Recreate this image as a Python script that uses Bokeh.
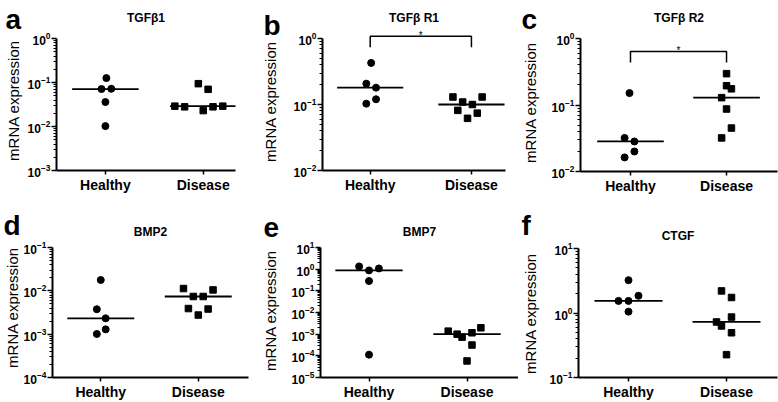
import math
import numpy as np
from bokeh.plotting import figure
from bokeh.models import Range1d, FixedTicker, Label
from bokeh.layouts import column, row
from bokeh.embed import file_html
from bokeh.resources import INLINE
from bokeh.core.properties import value

# ---------------- data ----------------
groups = ["Healthy", "Disease"]

tgfb1_healthy = [0.126, 0.071, 0.072, 0.036, 0.0102]
tgfb1_disease = [0.094, 0.070, 0.029, 0.028, 0.023, 0.028, 0.029]
tgfbr1_healthy = [0.427, 0.207, 0.18, 0.12, 0.103]
tgfbr1_disease = [0.13, 0.109, 0.0815, 0.1, 0.13, 0.074, 0.0617]
tgfbr2_healthy = [0.151, 0.032, 0.0283, 0.02, 0.0163]
tgfbr2_disease = [0.296, 0.195, 0.175, 0.129, 0.087, 0.045, 0.032]
bmp2_healthy = [0.0178, 0.00376, 0.00232, 0.00129, 0.00101]
bmp2_disease = [0.0113, 0.0105, 0.0074, 0.0074, 0.0039, 0.0038, 0.00276]
bmp7_healthy = [1.34, 0.877, 1.08, 0.284, 1.13e-4]
bmp7_disease = [1.38e-3, 1.0e-3, 7.3e-4, 1.16e-3, 1.97e-3, 3.15e-4, 5.8e-5]
ctgf_healthy = [3.23, 1.85, 1.54, 1.54, 1.05]
ctgf_disease = [2.2, 1.74, 0.865, 0.726, 0.63, 0.494, 0.226]

# horizontal scatter of points (pixels from category centre)
jit_a_h = [1, -4, 6, 0, 0]
jit_a_d = [-5, 5, -29, -19, 0, 10, 20]
jit_b_h = [1, -4, 6, 6, -4]
jit_b_d = [-19, -9, -14, 1, 11, 6, -4]
jit_c_h = [-1, -6, 4, 4, -6]
jit_c_d = [0, 0, 5, -5, 0, 5, -5]
jit_d_h = [0, -4, 5, 5, -4]
jit_d_d = [-15, 15, -5, 5, -10, 10, 0]
jit_e_h = [-10, 0, 10, 0, 0]
jit_e_d = [-19, -10, -5, 5, 14, 5, 0]
jit_f_h = [0, 10, -10, 0, 0]
jit_f_d = [-5, 5, 5, -10, -5, 5, 0]

# significance brackets: (top, leg bottom)
sig_b = (1.08, 0.74)
sig_c = (0.635, 0.437)

Y_LABEL = "mRNA expression"
FONT = "Liberation Sans"

# row layout: (row top, row height)
TOP_ROW = (0, 200)
BOT_ROW = (200, 202)

panels = [
    dict(letter="a", title="TGFβ1", h=tgfb1_healthy, d=tgfb1_disease, jh=jit_a_h, jd=jit_a_d,
         lo=-3, hi=0, sig=None, rowcfg=TOP_ROW,
         fig=(0, 260, 24), frame=(52, 235, 27, 38, 170), cat=(102, 202),
         title_pos=(148, 15), letter_pos=(5, 19), ylab_pos=(13, 100)),
    dict(letter="b", title="TGFβ R1", h=tgfbr1_healthy, d=tgfbr1_disease, jh=jit_b_h, jd=jit_b_d,
         lo=-2, hi=0, sig=sig_b, rowcfg=TOP_ROW,
         fig=(260, 258, 30), frame=(317, 505, 27, 38, 170), cat=(366, 470),
         title_pos=(416, 15), letter_pos=(263, 25), ylab_pos=(270, 101)),
    dict(letter="c", title="TGFβ R2", h=tgfbr2_healthy, d=tgfbr2_disease, jh=jit_c_h, jd=jit_c_d,
         lo=-2, hi=0, sig=sig_c, rowcfg=TOP_ROW,
         fig=(518, 260, 30), frame=(576, 777, 27, 38, 171), cat=(627, 725),
         title_pos=(676, 15), letter_pos=(521, 19), ylab_pos=(530, 102)),
    dict(letter="d", title="BMP2", h=bmp2_healthy, d=bmp2_disease, jh=jit_d_h, jd=jit_d_d,
         lo=-4, hi=-1, sig=None, rowcfg=BOT_ROW,
         fig=(0, 260, 20), frame=(49, 248, 247, 247, 379), cat=(98, 197),
         title_pos=(147, 222), letter_pos=(3, 225), ylab_pos=(12, 307)),
    dict(letter="e", title="BMP7", h=bmp7_healthy, d=bmp7_disease, jh=jit_e_h, jd=jit_e_d,
         lo=-5, hi=1, sig=None, rowcfg=BOT_ROW,
         fig=(260, 258, 28), frame=(318, 518, 247, 247, 379), cat=(367, 466),
         title_pos=(417, 222), letter_pos=(263, 227), ylab_pos=(270, 310)),
    dict(letter="f", title="CTGF", h=ctgf_healthy, d=ctgf_disease, jh=jit_f_h, jd=jit_f_d,
         lo=-1, hi=1, sig=None, rowcfg=BOT_ROW,
         fig=(518, 260, 28), frame=(578, 777, 248, 248, 380), cat=(628, 726),
         title_pos=(676, 230), letter_pos=(521, 225), ylab_pos=(530, 313)),
]


def make_side(cfg):
    """Narrow strip left of the axis: panel letter and y-axis title."""
    fx, W, LW = cfg["fig"]
    ry, rh = cfg["rowcfg"]
    s = figure(width=LW, height=rh, output_backend="svg", toolbar_location=None,
               x_axis_location=None, y_axis_location=None,
               x_range=Range1d(0, LW), y_range=Range1d(0, rh),
               min_border=0, outline_line_color=None, frame_align=False)
    s.xgrid.visible = False
    s.ygrid.visible = False
    lx, ly = cfg["letter_pos"]
    s.add_layout(Label(x=lx - fx, y=rh - (ly - ry), x_units="screen", y_units="screen",
                       text=cfg["letter"], text_align="left", text_baseline="alphabetic",
                       text_font=FONT, text_font_style="bold", text_font_size="28px",
                       text_color="black"))
    yx, yy = cfg["ylab_pos"]
    s.add_layout(Label(x=yx - fx, y=rh - (yy - ry), x_units="screen", y_units="screen",
                       text=Y_LABEL, angle=math.pi / 2, text_align="center",
                       text_baseline="middle", text_font=FONT, text_font_style="normal",
                       text_font_size="15px", text_color="black"))
    return s


def make_panel(cfg):
    fx0, Wt, LW = cfg["fig"]
    fx = fx0 + LW
    W = Wt - LW
    fy, H = cfg["rowcfg"]
    fl, fr, ft, at, fb = cfg["frame"]
    ch, cd = cfg["cat"]
    sp = cd - ch
    x0 = 1 - (ch - fl) / sp
    x1 = 2 + (fr - cd) / sp
    lo, hi = cfg["lo"], cfg["hi"]
    ppd = (fb - at) / (hi - lo)
    yend = 10 ** (hi + (at - ft) / ppd)

    p = figure(width=W, height=H, output_backend="svg", toolbar_location=None,
               y_axis_type="log", x_range=Range1d(x0, x1),
               y_range=Range1d(10 ** lo, yend), frame_align=False)
    p.min_border_left = fl - fx
    p.min_border_right = max(fx + W - fr, 0)
    p.min_border_top = ft - fy
    p.min_border_bottom = fy + H - fb
    p.outline_line_color = None
    p.xgrid.visible = False
    p.ygrid.visible = False
    p.background_fill_color = "white"
    p.border_fill_color = "white"

    # panel title
    tx, ty = cfg["title_pos"]
    p.title.text = cfg["title"]
    p.title.align = "center"
    p.title.text_font = FONT
    p.title.text_font_style = "bold"
    p.title.text_font_size = "12px"
    p.title.text_color = "black"
    p.title.standoff = max(ft - (ty + 7), 0)
    p.title.offset = tx - (fl + fr) / 2

    # x axis
    xa = p.xaxis[0]
    xa.ticker = FixedTicker(ticks=[1, 2])
    xa.major_label_overrides = {1: groups[0], 2: groups[1]}
    xa.axis_line_width = 2
    xa.major_tick_line_width = 1.5
    xa.major_tick_out = 4
    xa.major_tick_in = 0
    xa.minor_tick_out = 0
    xa.major_label_standoff = 2
    xa.major_label_text_font = FONT
    xa.major_label_text_font_style = "bold"
    xa.major_label_text_font_size = "14px"
    xa.major_label_text_color = "black"

    # y axis
    ya = p.yaxis[0]
    majors = [10.0 ** k for k in range(lo, hi + 1)]
    minors = [m * 10.0 ** k for k in range(lo, hi) for m in range(2, 10)]
    ya.ticker = FixedTicker(ticks=majors, minor_ticks=minors)
    ya.bounds = (10 ** lo, 10 ** hi)
    ya.axis_line_width = 2
    ya.major_tick_line_width = 1.5
    ya.minor_tick_line_width = 1
    ya.major_tick_out = 5
    ya.major_tick_in = 0
    ya.minor_tick_out = 3
    ya.minor_tick_in = 0
    ya.major_label_standoff = 1
    ya.major_label_text_font = FONT
    ya.major_label_text_font_style = "bold"
    ya.major_label_text_font_size = "12px"
    ya.major_label_text_color = "black"

    # points
    hx = [1 + j / sp for j in cfg["jh"]]
    dx = [2 + j / sp for j in cfg["jd"]]
    p.scatter(hx, cfg["h"], marker="circle", size=7, color="black")
    p.scatter(dx, cfg["d"], marker="square", size=6.5, color="black")

    # medians
    hw = 34 / sp
    meds = [float(np.median(cfg["h"])), float(np.median(cfg["d"]))]
    p.segment(x0=[1 - hw, 2 - hw], x1=[1 + hw, 2 + hw], y0=meds, y1=meds,
              line_width=1.8, line_color="black")

    # significance bracket
    if cfg["sig"] is not None:
        top, leg = cfg["sig"]
        p.line([1, 1, 2, 2], [leg, top, top, leg], line_width=1.5, line_color="black")
        p.text(x=[1.5], y=[top * 1.03], text=["*"], text_align="center",
               text_baseline="alphabetic", text_font=value(FONT),
               text_font_size=value("10px"), text_color="black")
    return p


cells = [row(make_side(c), make_panel(c)) for c in panels]
layout = column(row(*cells[:3]), row(*cells[3:]))

open("out.html", "w").write(file_html(layout, INLINE))
